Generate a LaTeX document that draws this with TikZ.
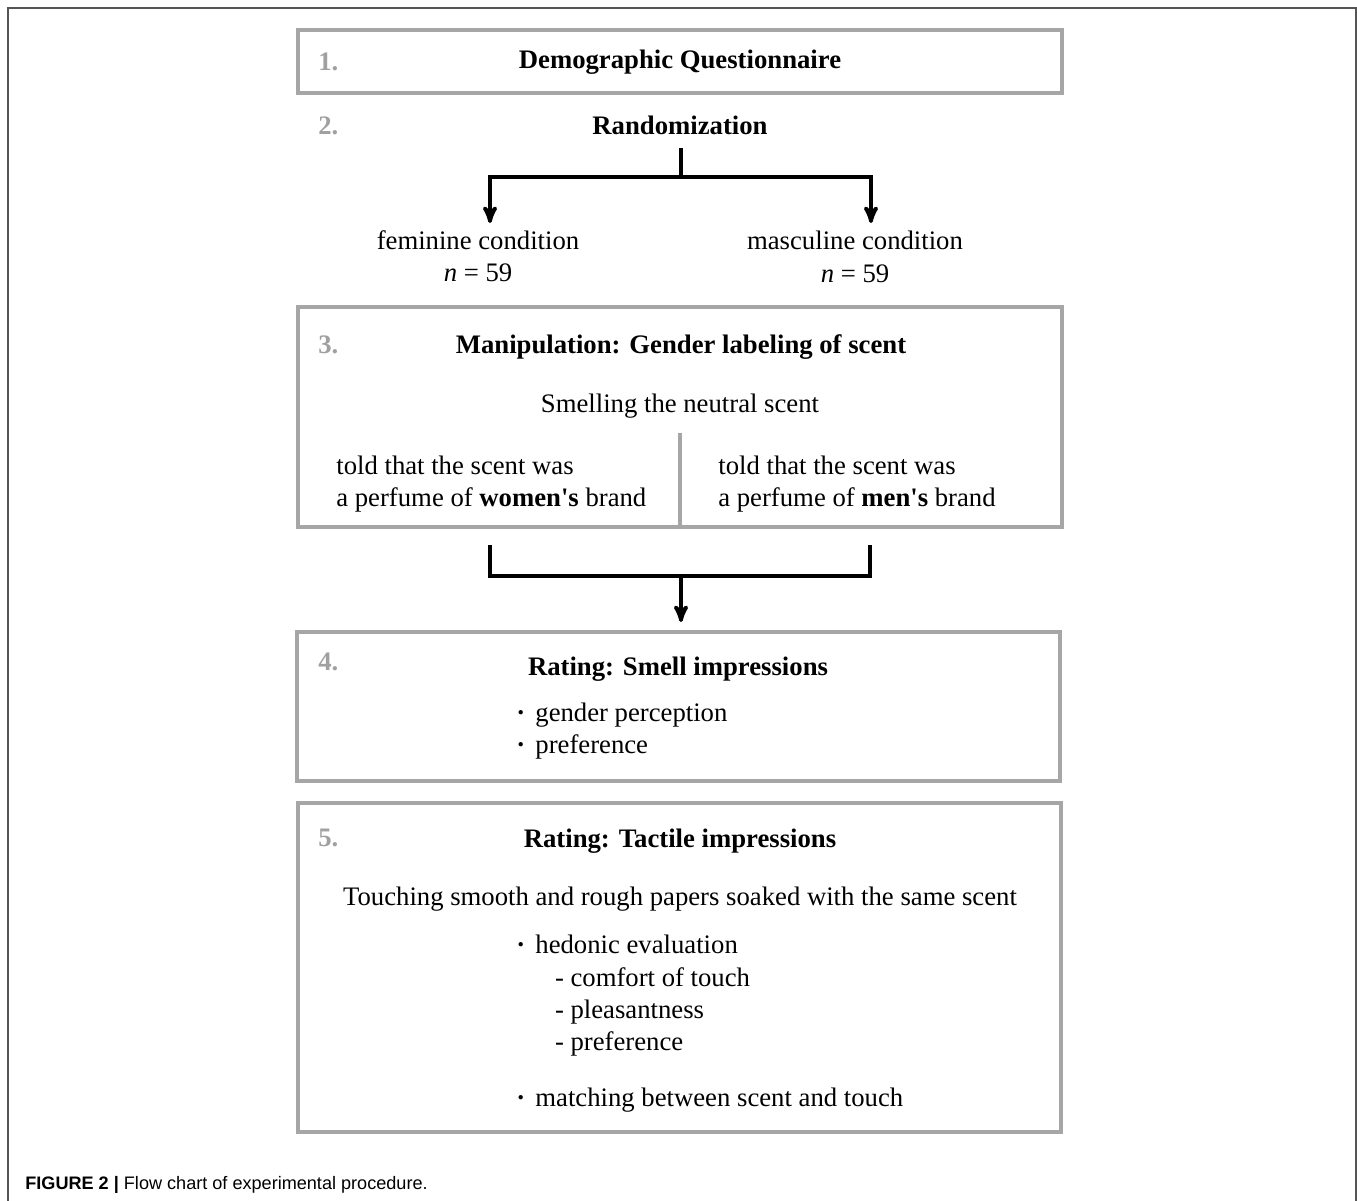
\documentclass[tikz,border=0pt]{standalone}
\usepackage{fontspec}
\setmainfont{Liberation Serif}
\setsansfont{Liberation Sans}
\usepackage{tikz}
\usetikzlibrary{arrows}

\definecolor{boxgray}{HTML}{A6A6A6}
\definecolor{numgray}{HTML}{A0A0A0}
\definecolor{framegray}{HTML}{555555}
\newcommand{\dotitem}{\textbf{·}\hspace{0.38em}}
\newcommand{\dashitem}{\hspace*{22pt}- }

\begin{document}
\begin{tikzpicture}[x=0.02cm,y=-0.02cm]
                \tikzset{box/.style = {draw=boxgray,line width=2.1pt,inner sep=0pt}}
                \tikzset{txt/.style = {inner sep=0pt,font=\fontsize{15.2}{18.4}\selectfont}}
                \tikzset{ttl/.style = {txt,font=\fontsize{15.2}{18.4}\selectfont\bfseries}}
                \tikzset{num/.style = {ttl,text=numgray,anchor=west}}
                \tikzset{edge/.style = {->,> = stealth',line width=2.1pt}}
                \useasboundingbox (0,0) rectangle (1357,1201);
                \draw[framegray,line width=0.6pt] (8,1201) -- (8,8) -- (1356,8) -- (1356,1201);

                % boxes
                \node[box,minimum width=15.28cm,minimum height=1.26cm] (q1) at (680,61.5) {};
                \node[box,minimum width=15.28cm,minimum height=4.4cm] (q3) at (680,417) {};
                \node[box,minimum width=15.26cm,minimum height=2.98cm] (q4) at (678.5,706.5) {};
                \node[box,minimum width=15.26cm,minimum height=6.58cm] (q5) at (679.5,967.5) {};

                % step numbers
                \node[num] (n1) at (318,62) {1.};
                \node[num] (n2) at (318,126) {2.};
                \node[num] (n3) at (318,345) {3.};
                \node[num] (n4) at (318,662) {4.};
                \node[num] (n5) at (318,838) {5.};

                % titles
                \node[ttl] (demo) at (680,62) {Demographic Questionnaire};
                \node[ttl] (rand) at (680,125) {Randomization};
                \node[ttl] (manip) at (681,347) {Manipulation: Gender labeling of scent};
                \node[ttl] (smell) at (678,669) {Rating: Smell impressions};
                \node[ttl] (tact) at (680,841) {Rating: Tactile impressions};

                % texts
                \node[txt,align=center] (fem) at (478,256) {feminine condition\\{\itshape n} = 59};
                \node[txt,align=center] (mas) at (855,257) {masculine condition\\{\itshape n} = 59};
                \node[txt] (neutral) at (680,406) {Smelling the neutral scent};
                \node[txt,align=left,anchor=west] (told1) at (336,484) {told that the scent was\\a perfume of \textbf{women\textquotesingle s} brand};
                \node[txt,align=left,anchor=west] (told2) at (718,484) {told that the scent was\\a perfume of \textbf{men\textquotesingle s} brand};
                \node[txt,align=left,anchor=west] (smitems) at (516,731) {\dotitem gender perception\\\dotitem preference};
                \node[txt] (touch) at (680,899) {Touching smooth and rough papers soaked with the same scent};
                \node[txt,align=left,anchor=west] (hedonic) at (516,996) {\dotitem hedonic evaluation\\\dashitem comfort of touch\\\dashitem pleasantness\\\dashitem preference};
                \node[txt,anchor=west] (match) at (516,1100) {\dotitem matching between scent and touch};
                \node[inner sep=0pt,anchor=west,font=\sffamily\fontsize{10.3}{12}\selectfont] (cap) at (25,1185) {\textbf{FIGURE 2 |}\ Flow chart of experimental procedure.};

                % connector points
                \coordinate (r0) at (681,148);
                \coordinate (fork) at (681,177);
                \coordinate (femtip) at (490,223);
                \coordinate (mastip) at (871,223);
                \coordinate (ml) at (490,545);
                \coordinate (mr) at (870,545);
                \coordinate (merge) at (681,576);
                \coordinate (q4tip) at (681,622);
                \coordinate (div) at (680,433);

                %edges
                \draw[line width=2.1pt] (r0) to (fork);
                \draw[edge] (fork) -| (femtip);
                \draw[edge] (fork) -| (mastip);
                \draw[line width=2.1pt] (ml) |- (merge) -| (mr);
                \draw[edge] (merge) to (q4tip);
                \draw[boxgray,line width=2.1pt] (div) to (q3.south);
            \end{tikzpicture}
\end{document}
